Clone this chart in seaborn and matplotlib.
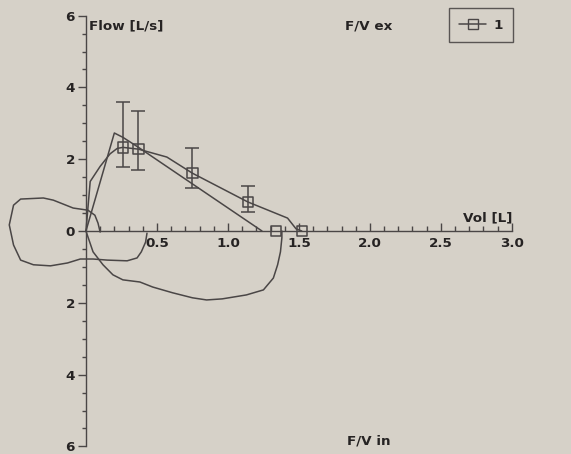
import numpy as np
import pandas as pd
import matplotlib
matplotlib.use("Agg")
import matplotlib.pyplot as plt
from matplotlib.lines import Line2D
from matplotlib.ticker import FixedLocator, FuncFormatter
import seaborn as sns

# expiration curve through the marked points (series "1")
vol_a = [0.0, 0.03, 0.10, 0.17, 0.22, 0.26, 0.37, 0.57, 0.75, 1.14, 1.42, 1.48, 1.52]
flow_a = [0.0, 1.38, 1.80, 2.15, 2.30, 2.33, 2.28, 2.06, 1.61, 0.81, 0.36, 0.06, 0.0]

# expiration curve with the sharp peak
vol_b = [0.0, 0.20, 0.26, 0.37, 1.24]
flow_b = [0.0, 2.73, 2.61, 2.33, 0.0]

# inspiration loop on the left (flow in is negative)
vol_c = [0.10, 0.085, 0.063, 0.014, -0.09, -0.23, -0.30, -0.46, -0.51, -0.54, -0.51, -0.46,
         -0.37, -0.25, -0.13, -0.04, 0.05, 0.15, 0.29, 0.36, 0.39, 0.42, 0.43]
flow_c = [-0.03, 0.22, 0.44, 0.58, 0.64, 0.86, 0.92, 0.89, 0.72, 0.17, -0.39, -0.81,
          -0.94, -0.97, -0.89, -0.78, -0.78, -0.81, -0.83, -0.75, -0.58, -0.31, -0.06]

# big inspiration loop
vol_d = [0.0, 0.05, 0.12, 0.19, 0.26, 0.38, 0.47, 0.61, 0.75, 0.85, 0.96, 1.13, 1.25,
         1.32, 1.35, 1.37, 1.38, 1.38]
flow_d = [0.0, -0.58, -0.94, -1.22, -1.36, -1.42, -1.56, -1.72, -1.86, -1.92, -1.89, -1.78,
          -1.64, -1.31, -0.94, -0.58, -0.19, 0.0]

# marked points and their ranges
mark_vol = [0.26, 0.37, 0.75, 1.14, 1.34, 1.52]
mark_flow = [2.33, 2.28, 1.61, 0.81, 0.0, 0.0]
range_lo = [1.79, 1.69, 1.19, 0.53]
range_hi = [3.59, 3.33, 2.31, 1.25]

bg = "#d6d1c8"
ink = "#4a4646"
txt = "#262323"

sns.set_style("white")
plt.rcParams["font.family"] = ["DejaVu Sans"]
plt.rcParams["font.weight"] = "bold"
plt.rcParams["text.color"] = txt

fig = plt.figure(figsize=(5.71, 4.54), dpi=100)
fig.patch.set_facecolor(bg)
ax = fig.add_axes([0.0063, 0.0048, 0.920, 0.9727])
ax.set_facecolor(bg)

lw = 1.1
sns.lineplot(x=vol_a, y=flow_a, sort=False, estimator=None, color=ink, lw=lw, ax=ax)
sns.lineplot(x=vol_b, y=flow_b, sort=False, estimator=None, color=ink, lw=lw, ax=ax)
sns.lineplot(x=vol_c, y=flow_c, sort=False, estimator=None, color=ink, lw=lw, ax=ax)
sns.lineplot(x=vol_d, y=flow_d, sort=False, estimator=None, color=ink, lw=lw, ax=ax)

n = len(range_lo)
yerr = [np.array(mark_flow[:n]) - np.array(range_lo), np.array(range_hi) - np.array(mark_flow[:n])]
ax.errorbar(mark_vol[:n], mark_flow[:n], yerr=yerr, fmt="none", ecolor=ink, elinewidth=lw,
            capsize=4.7, capthick=lw, zorder=3)
sns.scatterplot(x=mark_vol, y=mark_flow, marker="s", s=56, facecolor="none",
                edgecolor=ink, linewidth=lw, ax=ax, zorder=4)

ax.set_xlim(-0.58, 3.12)
ax.set_ylim(-6.15, 6.15)

for side in ["top", "right"]:
    ax.spines[side].set_visible(False)
ax.spines["left"].set_position(("data", 0))
ax.spines["bottom"].set_position(("data", 0))
ax.spines["left"].set_bounds(-6, 6)
ax.spines["bottom"].set_bounds(0, 3)
for side in ["left", "bottom"]:
    ax.spines[side].set_color(ink)
    ax.spines[side].set_linewidth(1.0)

xt = [0.5, 1.0, 1.5, 2.0, 2.5, 3.0]
ax.xaxis.set_major_locator(FixedLocator(xt))
ax.xaxis.set_minor_locator(FixedLocator([round(v, 1) for v in np.arange(0.1, 3.01, 0.1)]))
ax.xaxis.set_major_formatter(FuncFormatter(lambda v, p: f"{v:.1f}"))
ax.yaxis.set_major_locator(FixedLocator([-6, -4, -2, 0, 2, 4, 6]))
ax.yaxis.set_minor_locator(FixedLocator(list(np.arange(-6, 6.01, 0.5))))
ax.yaxis.set_major_formatter(FuncFormatter(lambda v, p: f"{abs(v):.0f}"))

ax.tick_params(axis="x", which="major", bottom=True, top=False, direction="in", length=6,
               width=1, color=ink, labelsize=9.7, labelcolor=txt, pad=4)
ax.tick_params(axis="x", which="minor", bottom=True, top=False, direction="in", length=3.5,
               width=1, color=ink)
ax.tick_params(axis="y", which="major", left=True, right=False, direction="out", length=6,
               width=1, color=ink, labelsize=9.7, labelcolor=txt, pad=2)
ax.tick_params(axis="y", which="minor", left=True, right=False, direction="out", length=3,
               width=1, color=ink)

ax.text(0.025, 5.72, "Flow [L/s]", ha="left", va="center", fontsize=9.7)
ax.text(1.99, 5.72, "F/V ex", ha="center", va="center", fontsize=9.7)
ax.text(1.99, -5.84, "F/V in", ha="center", va="center", fontsize=9.7)
ax.text(3.0, 0.36, "Vol [L]", ha="right", va="center", fontsize=9.7)

handle = Line2D([], [], color=ink, lw=lw, marker="s", markersize=7.5,
                markerfacecolor="none", markeredgecolor=ink)
leg = ax.legend([handle], ["1"], loc="upper right", bbox_to_anchor=(513 / 571, 1 - 8 / 454),
                bbox_transform=fig.transFigure, borderaxespad=0, fancybox=False,
                frameon=True, fontsize=9.7, handlelength=2.0, borderpad=0.78,
                handletextpad=0.5)
leg.get_frame().set_edgecolor("#3a3636")
leg.get_frame().set_linewidth(1.0)
leg.get_frame().set_facecolor(bg)

fig.savefig("out.png", dpi=100, facecolor=bg)
